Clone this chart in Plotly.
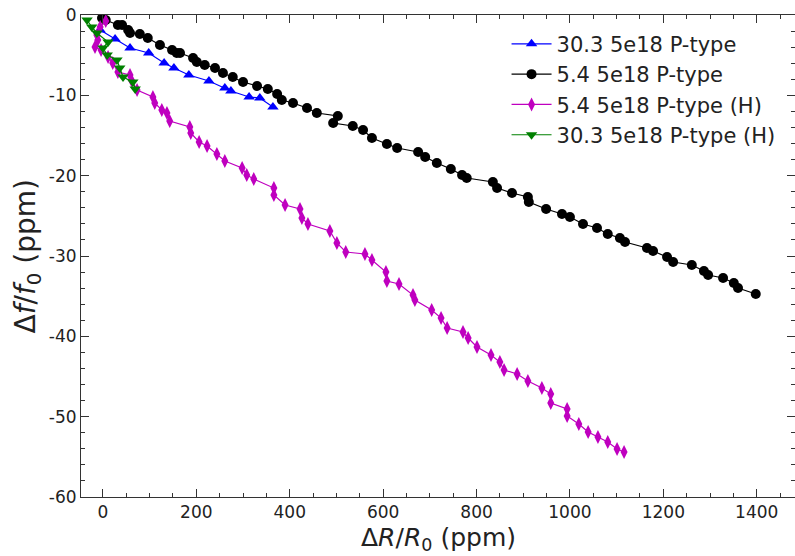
import plotly.graph_objects as go

# 30.3 5e18 P-type
blue_x = [-6, 26, 58, 98, 131, 152, 184, 227, 261, 274, 313, 336, 364]
blue_y = [-1.87, -2.99, -4.11, -4.73, -5.98, -6.60, -7.47, -8.22, -9.09, -9.46, -10.21, -10.33, -11.45]

# 5.4 5e18 P-type
black_x = [-2, 6, 32, 41, 54, 58, 79, 96, 122, 148, 158, 165, 193, 201, 218, 240, 257, 278, 300,
           330, 353, 373, 383, 407, 437, 458, 503, 493, 535, 557, 576, 608, 630, 675, 690, 715,
           745, 769, 779, 835, 844, 876, 910, 912, 949, 983, 1000, 1028, 1058, 1081, 1107, 1118,
           1165, 1178, 1208, 1221, 1261, 1287, 1296, 1328, 1351, 1360, 1398]
black_y = [-0.37, -0.62, -1.24, -1.24, -1.87, -2.24, -2.37, -2.86, -3.73, -4.36, -4.73, -4.73,
           -5.35, -5.85, -6.22, -6.60, -7.22, -7.72, -8.34, -8.84, -9.21, -9.83, -10.58, -10.95,
           -11.58, -12.20, -12.57, -13.44, -13.82, -14.32, -15.31, -16.06, -16.56, -17.05, -17.68,
           -18.42, -19.17, -19.92, -20.29, -20.79, -21.54, -22.16, -22.66, -23.28, -24.15, -24.77,
           -25.15, -26.02, -26.52, -27.26, -27.76, -28.26, -29.00, -29.38, -30.13, -30.75, -31.12,
           -31.87, -32.37, -32.74, -33.36, -33.98, -34.73]

# 5.4 5e18 P-type (H)
mag_x = [6, -6, -13, -11, -17, -4, 11, 21, 32, 58, 62, 73, 107, 111, 126, 137, 143, 186, 188, 206,
         223, 244, 261, 298, 308, 323, 366, 366, 390, 422, 426, 439, 486, 501, 520, 561, 576, 606,
         608, 634, 664, 668, 704, 724, 737, 771, 782, 801, 831, 850, 859, 887, 910, 940, 959, 959,
         994, 994, 1019, 1039, 1060, 1081, 1101, 1116]
mag_y = [-0.75, -1.49, -2.49, -3.11, -3.98, -4.36, -5.23, -5.98, -7.10, -7.47, -8.22, -9.34,
         -10.21, -10.95, -11.83, -12.20, -13.20, -13.94, -14.69, -15.81, -16.31, -17.30, -18.17,
         -19.05, -19.92, -20.42, -21.54, -22.41, -23.65, -24.15, -25.27, -26.02, -26.89, -28.38,
         -29.50, -29.75, -30.50, -32.00, -33.12, -33.49, -34.86, -35.49, -36.72, -37.72, -38.96,
         -39.46, -40.21, -41.33, -42.33, -43.20, -44.19, -44.69, -45.56, -46.43, -47.18, -48.30,
         -49.05, -49.92, -50.92, -51.91, -52.53, -53.15, -54.03, -54.40]

# 30.3 5e18 P-type (H)
green_x = [-34, -24, -13, 11, 0, 9, 30, 36, 43, 64, 69]
green_y = [-0.62, -1.49, -2.24, -3.36, -4.11, -4.98, -5.60, -6.60, -7.72, -8.34, -9.21]

x_ticks = [0, 200, 400, 600, 800, 1000, 1200, 1400]
y_ticks = [0, -10, -20, -30, -40, -50, -60]

series = [
    ("30.3 5e18 P-type", blue_x, blue_y, "#0000ff", "triangle-up", 10),
    ("5.4 5e18 P-type", black_x, black_y, "#000000", "circle", 10),
    ("5.4 5e18 P-type (H)", mag_x, mag_y, "#bf00bf", "diamond-tall", 10),
    ("30.3 5e18 P-type (H)", green_x, green_y, "#008000", "triangle-down", 10),
]

fig = go.Figure()
for name, xs, ys, col, sym, sz in series:
    fig.add_trace(go.Scatter(
        x=xs, y=ys, name=name, mode="lines+markers",
        line=dict(color=col, width=1.2),
        marker=dict(symbol=sym, size=sz, color=col, line=dict(width=0)),
    ))

axis_common = dict(
    showgrid=False, zeroline=False, showline=True, linecolor="#333333", linewidth=1,
    ticks="inside", ticklen=8, tickwidth=1, tickcolor="#333333", mirror="allticks",
    tickfont=dict(family="DejaVu Sans", size=17, color="#222222"),
    automargin=False,
)

fig.update_xaxes(
    range=[-47, 1482], tickvals=x_ticks, ticktext=[str(v) for v in x_ticks],
    minor=dict(dtick=50, ticklen=4, ticks="inside", tickcolor="#333333"),
    **axis_common,
)
fig.update_yaxes(
    range=[-60, 0], tickvals=y_ticks, ticktext=[str(v).replace("−", "-") for v in y_ticks],
    minor=dict(dtick=2, ticklen=4, ticks="inside", tickcolor="#333333"),
    **axis_common,
)

fig.add_annotation(
    text="Δ<i>R</i>/<i>R</i><sub>0</sub> (ppm)", xref="paper", yref="paper",
    x=0.5, y=-0.088, xanchor="center", yanchor="middle", showarrow=False,
    font=dict(family="DejaVu Sans", size=25, color="#222222"),
)
fig.add_annotation(
    text="Δ<i>f</i>/<i>f</i><sub>0</sub> (ppm)", xref="paper", yref="paper",
    x=-0.075, y=0.5, xanchor="center", yanchor="middle", showarrow=False, textangle=-90,
    font=dict(family="DejaVu Sans", size=28, color="#222222"),
)

fig.update_layout(
    width=795, height=556,
    margin=dict(l=81, r=0, t=15, b=59),
    paper_bgcolor="white", plot_bgcolor="white",
    font=dict(family="DejaVu Sans", color="#222222"),
    legend=dict(x=0.596, y=0.982, xanchor="left", yanchor="top",
                bgcolor="rgba(255,255,255,0)", font=dict(size=21, family="DejaVu Sans"),
                itemwidth=40),
    showlegend=True,
)

fig.write_html(
    "out.html",
    config={"displayModeBar": False},
    post_script="document.body.style.margin='0';document.body.style.overflow='hidden';",
)
